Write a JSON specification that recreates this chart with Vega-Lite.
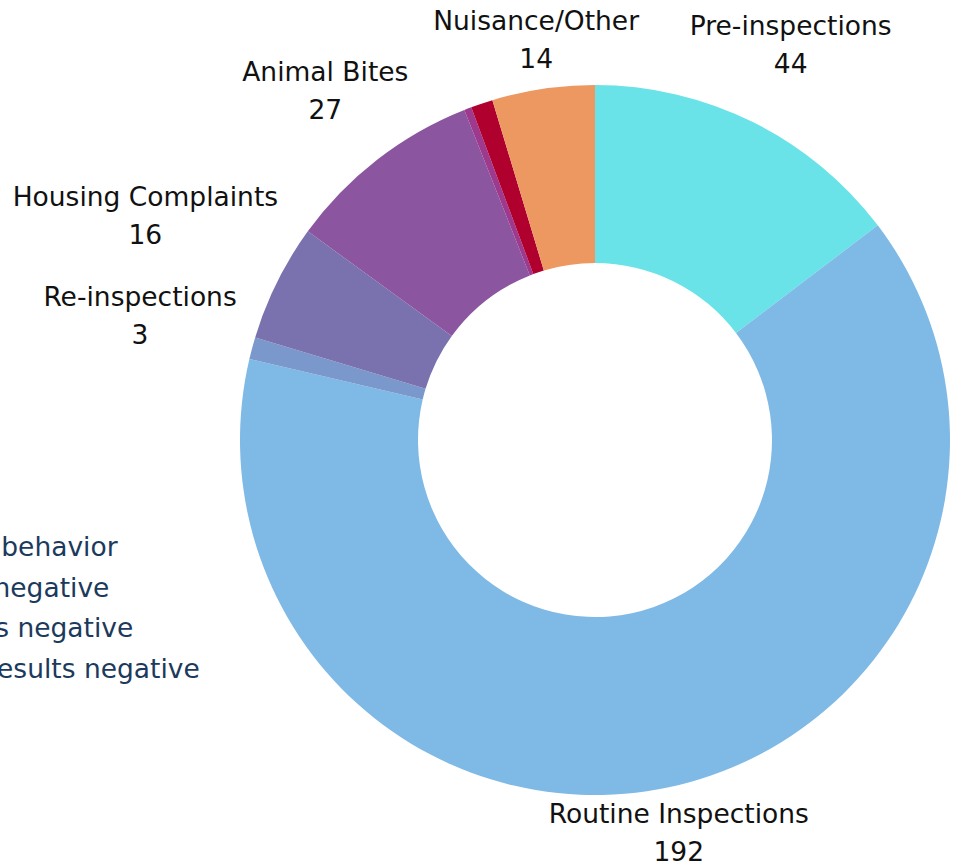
{
  "$schema": "https://vega.github.io/schema/vega-lite/v6.json",
  "width": 736,
  "height": 850,
  "padding": {"left": 227, "top": 15, "right": 0, "bottom": 0},
  "autosize": {"type": "none"},
  "background": "white",
  "config": {"view": {"stroke": null}, "font": "DejaVu Sans"},
  "data": {"values": [
    {"category": "Pre-inspections", "count": 44, "order": 1},
    {"category": "Routine Inspections", "count": 192, "order": 2},
    {"category": "Re-inspections", "count": 3, "order": 3},
    {"category": "Housing Complaints", "count": 16, "order": 4},
    {"category": "Animal Bites", "count": 27, "order": 5},
    {"category": "Aggressive behavior", "count": 1, "order": 6},
    {"category": "Cat tested negative", "count": 3, "order": 7},
    {"category": "Nuisance/Other", "count": 14, "order": 8},
    {"category": "Rabies tests negative", "count": 0, "order": 9},
    {"category": "Specimen results negative", "count": 0, "order": 10}
  ]},
  "encoding": {
    "theta": {"field": "count", "type": "quantitative", "stack": true},
    "order": {"field": "order", "type": "quantitative"}
  },
  "layer": [
    {
      "mark": {"type": "arc", "radius": 355, "innerRadius": 177},
      "encoding": {
        "color": {
          "field": "category", "type": "nominal",
          "scale": {
            "domain": ["Pre-inspections", "Routine Inspections", "Re-inspections", "Housing Complaints", "Animal Bites", "Aggressive behavior", "Cat tested negative", "Nuisance/Other", "Rabies tests negative", "Specimen results negative"],
            "range": ["#6AE3E8", "#7FB9E6", "#7A98CC", "#7A72AE", "#8B55A0", "#9E3A8E", "#B0002E", "#EC9860", "#5B8FD0", "#2E5C8A"]
          },
          "legend": {
            "orient": "none", "legendX": -406, "legendY": 520,
            "title": null,
            "values": ["Aggressive behavior", "Cat tested negative", "Rabies tests negative", "Specimen results negative"],
            "labelFont": "DejaVu Sans", "labelFontSize": 26.5, "labelColor": "#1B3A5C", "labelLimit": 0, "labelOffset": 0,
            "symbolOpacity": 0, "symbolSize": 0, "rowPadding": 13.5
          }
        }
      }
    },
    {
      "mark": {"type": "text", "radius": 440, "dy": -19, "fontSize": 26.5, "color": "#111111", "font": "DejaVu Sans"},
      "encoding": {
        "detail": {"field": "category"},
        "text": {"condition": {"test": "datum.category === 'Pre-inspections' || datum.category === 'Animal Bites'", "field": "category"}, "value": ""}
      }
    },
    {
      "mark": {"type": "text", "radius": 440, "dy": 19, "fontSize": 26.5, "color": "#111111", "font": "DejaVu Sans"},
      "encoding": {
        "detail": {"field": "category"},
        "text": {"condition": {"test": "datum.category === 'Pre-inspections' || datum.category === 'Animal Bites'", "field": "count", "type": "quantitative"}, "value": ""}
      }
    },
    {
      "mark": {"type": "text", "radius": 403, "dy": -19, "fontSize": 26.5, "color": "#111111", "font": "DejaVu Sans"},
      "encoding": {
        "detail": {"field": "category"},
        "text": {"condition": {"test": "datum.category === 'Nuisance/Other' || datum.category === 'Routine Inspections'", "field": "category"}, "value": ""}
      }
    },
    {
      "mark": {"type": "text", "radius": 403, "dy": 19, "fontSize": 26.5, "color": "#111111", "font": "DejaVu Sans"},
      "encoding": {
        "detail": {"field": "category"},
        "text": {"condition": {"test": "datum.category === 'Nuisance/Other' || datum.category === 'Routine Inspections'", "field": "count", "type": "quantitative"}, "value": ""}
      }
    },
    {
      "mark": {"type": "text", "radius": 502, "dy": -19, "fontSize": 26.5, "color": "#111111", "font": "DejaVu Sans"},
      "encoding": {
        "detail": {"field": "category"},
        "text": {"condition": {"test": "datum.category === 'Housing Complaints'", "field": "category"}, "value": ""}
      }
    },
    {
      "mark": {"type": "text", "radius": 502, "dy": 19, "fontSize": 26.5, "color": "#111111", "font": "DejaVu Sans"},
      "encoding": {
        "detail": {"field": "category"},
        "text": {"condition": {"test": "datum.category === 'Housing Complaints'", "field": "count", "type": "quantitative"}, "value": ""}
      }
    },
    {
      "mark": {"type": "text", "radius": 471, "dy": -20, "fontSize": 26.5, "color": "#111111", "font": "DejaVu Sans"},
      "encoding": {
        "detail": {"field": "category"},
        "text": {"condition": {"test": "datum.category === 'Re-inspections'", "field": "category"}, "value": ""}
      }
    },
    {
      "mark": {"type": "text", "radius": 471, "dy": 18, "fontSize": 26.5, "color": "#111111", "font": "DejaVu Sans"},
      "encoding": {
        "detail": {"field": "category"},
        "text": {"condition": {"test": "datum.category === 'Re-inspections'", "field": "count", "type": "quantitative"}, "value": ""}
      }
    }
  ]
}
